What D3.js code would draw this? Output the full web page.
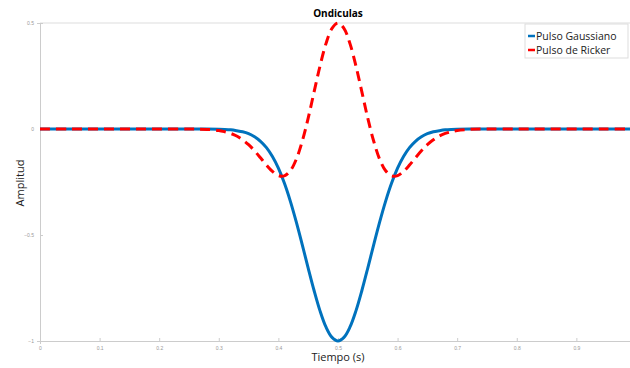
<!DOCTYPE html>
<html>
<head>
<meta charset="utf-8">
<script src="https://cdn.jsdelivr.net/npm/d3@7"></script>
<style>
  body { margin: 0; background: #fff; }
  svg { font-family: "Open Sans", "DejaVu Sans", sans-serif; }
  .tick text { fill: #999; font-size: 5px; }
  .tick line, .domain { stroke: #ccc; }
</style>
</head>
<body>
<svg id="chart" width="630" height="368"></svg>
<script>
const time = [0, 0.05, 0.10, 0.15, 0.20, 0.25, 0.28,
  0.30, 0.31, 0.32, 0.33, 0.34, 0.35, 0.36, 0.37, 0.38, 0.39, 0.40,
  0.41, 0.42, 0.43, 0.44, 0.45, 0.46, 0.47, 0.48, 0.49, 0.50,
  0.51, 0.52, 0.53, 0.54, 0.55, 0.56, 0.57, 0.58, 0.59, 0.60,
  0.61, 0.62, 0.63, 0.64, 0.65, 0.66, 0.67, 0.68, 0.69, 0.70,
  0.72, 0.75, 0.80, 0.85, 0.90, 0.95, 0.99];

const gauss = [0, 0, 0, 0, 0, 0, 0,
  -0.001, -0.002, -0.004, -0.008, -0.013, -0.022, -0.037, -0.058, -0.088, -0.130, -0.185,
  -0.255, -0.340, -0.438, -0.545, -0.656, -0.763, -0.859, -0.935, -0.983, -1,
  -0.983, -0.935, -0.859, -0.763, -0.656, -0.545, -0.438, -0.340, -0.255, -0.185,
  -0.130, -0.088, -0.058, -0.037, -0.022, -0.013, -0.008, -0.004, -0.002, -0.001,
  0, 0, 0, 0, 0, 0, 0];

const ricker = [0, 0, 0, 0, 0, 0, -0.002,
  -0.007, -0.013, -0.021, -0.033, -0.051, -0.074, -0.103, -0.136, -0.170, -0.200, -0.220,
  -0.221, -0.197, -0.143, -0.058, 0.051, 0.176, 0.299, 0.404, 0.475, 0.5,
  0.475, 0.404, 0.299, 0.176, 0.051, -0.058, -0.143, -0.197, -0.221, -0.220,
  -0.200, -0.170, -0.136, -0.103, -0.074, -0.051, -0.033, -0.021, -0.013, -0.007,
  -0.002, 0, 0, 0, 0, 0, 0];

const xTicks = [0, 0.1, 0.2, 0.3, 0.4, 0.5, 0.6, 0.7, 0.8, 0.9];
const yTicks = [-1, -0.5, 0, 0.5];
const seriesNames = ['Pulso Gaussiano', 'Pulso de Ricker'];
const seriesColors = ['#0072bd', '#ff0000'];

const svg = d3.select('#chart');
const plotL = 40, plotR = 630, plotT = 23, plotB = 341;

const x = d3.scaleLinear().domain([0, 0.99]).range([plotL, plotR]);
const y = d3.scaleLinear().domain([-1, 0.5]).range([plotB, plotT]);

// frame
svg.append('line').attr('x1', plotL).attr('x2', plotR).attr('y1', plotT).attr('y2', plotT)
  .attr('stroke', '#ddd');

svg.append('g').attr('transform', `translate(0,${plotB})`)
  .call(d3.axisBottom(x).tickValues(xTicks).tickSize(3).tickPadding(2).tickFormat(d3.format('')))
  .call(g => g.selectAll('.tick line').attr('y2', -3));

svg.append('g').attr('transform', `translate(${plotL},0)`)
  .call(d3.axisLeft(y).tickValues(yTicks).tickSize(3).tickPadding(3).tickFormat(d3.format('')))
  .call(g => g.selectAll('.tick line').attr('x2', 3));

const line = vals => d3.line()
  .x((d, i) => x(time[i]))
  .y(d => y(d))
  .curve(d3.curveCatmullRom)(vals);

svg.append('path').attr('d', line(gauss))
  .attr('fill', 'none').attr('stroke', seriesColors[0]).attr('stroke-width', 3);
svg.append('path').attr('d', line(ricker))
  .attr('fill', 'none').attr('stroke', seriesColors[1]).attr('stroke-width', 3)
  .attr('stroke-dasharray', '10,6');

// title and labels
svg.append('text').attr('x', 338).attr('y', 17).attr('text-anchor', 'middle')
  .attr('font-size', 10).attr('font-weight', 'bold').text('Ondiculas');
svg.append('text').attr('x', 338).attr('y', 361).attr('text-anchor', 'middle')
  .attr('font-size', 11).attr('fill', '#222').text('Tiempo (s)');
svg.append('text').attr('transform', 'translate(24,183) rotate(-90)').attr('text-anchor', 'middle')
  .attr('font-size', 11).attr('fill', '#222').text('Amplitud');

// legend
const lg = svg.append('g').attr('transform', 'translate(525,24)');
lg.append('rect').attr('width', 103).attr('height', 34)
  .attr('fill', '#fff').attr('stroke', '#ddd');
seriesNames.forEach((name, i) => {
  const yy = 12 + i * 14;
  lg.append('line').attr('x1', 3).attr('x2', 10).attr('y1', yy).attr('y2', yy)
    .attr('stroke', seriesColors[i]).attr('stroke-width', 2.5);
  lg.append('text').attr('x', 11).attr('y', yy + 4).attr('font-size', 10.5)
    .attr('fill', '#222').text(name);
});
</script>
</body>
</html>
